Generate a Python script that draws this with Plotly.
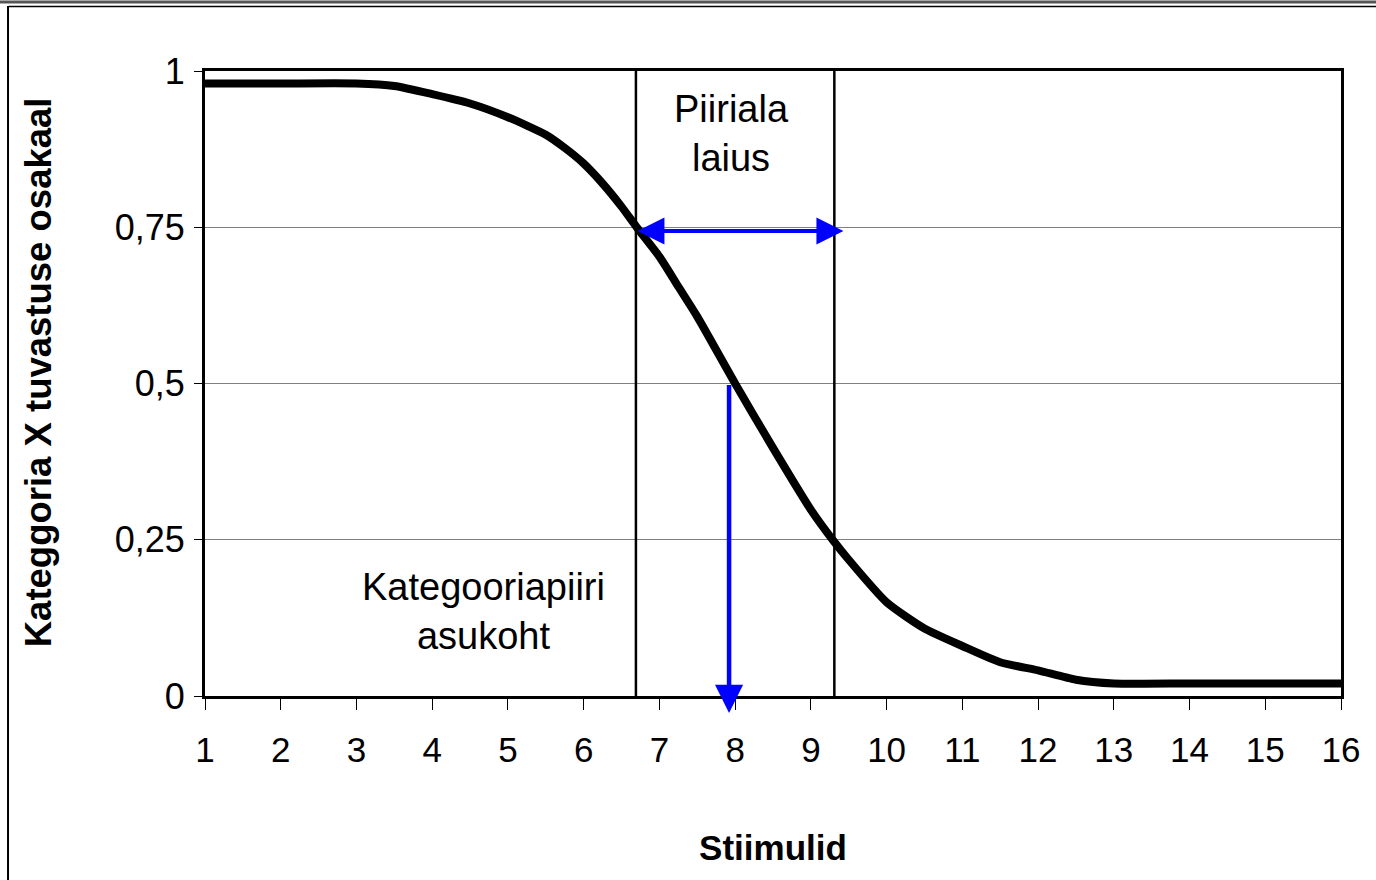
import plotly.graph_objects as go

# stimulus values and share of category X identifications
stimulus = [1, 2, 3, 3.5, 4, 4.5, 5, 5.5, 5.75, 6, 6.25, 6.5, 6.7, 7, 7.25, 7.5,
            8, 8.5, 9, 9.3, 9.5, 10, 10.5, 11, 11.5, 12, 12.5, 13, 14, 15, 16]
share = [0.98, 0.98, 0.98, 0.976, 0.963, 0.948, 0.926, 0.898, 0.877, 0.852, 0.82,
         0.783, 0.75, 0.703, 0.655, 0.607, 0.50, 0.397, 0.298, 0.248, 0.218, 0.15,
         0.108, 0.08, 0.054, 0.041, 0.026, 0.02, 0.02, 0.02, 0.02]

boundary_x = [6.69, 9.31]          # edges of the boundary region
width_arrow_x = [6.69, 9.43]       # "Piiriala laius" arrow
width_arrow_y = 0.744
location_x = 7.92                  # "Kategooriapiiri asukoht" arrow
location_y = [0.5, -0.027]

y_ticks = [0, 0.25, 0.5, 0.75, 1]
y_tick_text = ["0", "0,25", "0,5", "0,75", "1"]
x_ticks = list(range(1, 17))

FONT = "Liberation Sans, Arial, sans-serif"

fig = go.Figure()

fig.add_trace(
    go.Scatter(
        x=stimulus,
        y=share,
        mode="lines",
        line=dict(color="black", width=8, shape="spline", smoothing=0.6),
        cliponaxis=False,
        showlegend=False,
        hoverinfo="skip",
    )
)

# vertical boundary lines
for bx in boundary_x:
    fig.add_shape(
        type="line", xref="x", yref="y",
        x0=bx, x1=bx, y0=0, y1=1,
        line=dict(color="black", width=2.5),
    )

# double arrow for boundary width
fig.add_annotation(
    x=width_arrow_x[1], y=width_arrow_y,
    ax=width_arrow_x[0], ay=width_arrow_y,
    xref="x", yref="y", axref="x", ayref="y",
    text="", showarrow=True,
    arrowhead=2, arrowside="end+start", arrowsize=1.35,
    arrowwidth=4, arrowcolor="#0000ff",
)

# arrow down to the category boundary location
fig.add_annotation(
    x=location_x, y=location_y[1],
    ax=location_x, ay=location_y[0],
    xref="x", yref="y", axref="x", ayref="y",
    text="", showarrow=True,
    arrowhead=2, arrowsize=1.25,
    arrowwidth=4.5, arrowcolor="#0000ff",
)

fig.add_annotation(
    x=7.95, y=0.90, xref="x", yref="y",
    text="Piiriala<br>laius", showarrow=False,
    font=dict(family=FONT, size=38, color="black"),
)
fig.add_annotation(
    x=4.68, y=0.136, xref="x", yref="y",
    text="Kategooriapiiri<br>asukoht", showarrow=False,
    font=dict(family=FONT, size=38, color="black"),
)

# y axis title, placed as in the original (slightly above centre)
fig.add_annotation(
    x=-0.147, y=0.518, xref="paper", yref="paper",
    xanchor="center", yanchor="middle",
    text="<b>Kateggoria X tuvastuse osakaal</b>", showarrow=False,
    textangle=-90,
    font=dict(family=FONT, size=36.5, color="black"),
)

# outer frame (top and left edges)
fig.add_shape(type="line", xref="paper", yref="paper",
              x0=-0.19, x1=1.04, y0=1.1104, y1=1.1104,
              line=dict(color="#555555", width=3))
fig.add_shape(type="line", xref="paper", yref="paper",
              x0=-0.173, x1=1.04, y0=1.1032, y1=1.1032,
              line=dict(color="black", width=1.5))
fig.add_shape(type="line", xref="paper", yref="paper",
              x0=-0.1734, x1=-0.1734, y0=-0.3, y1=1.104,
              line=dict(color="black", width=2))

fig.update_xaxes(
    range=[1, 16],
    tickvals=x_ticks,
    ticks="outside", ticklen=11, tickwidth=1, tickcolor="black",
    ticklabelstandoff=10,
    showline=True, linecolor="black", linewidth=3, mirror=True,
    showgrid=False, zeroline=False,
    tickfont=dict(family=FONT, size=35, color="black"),
    title=dict(text="<b>Stiimulid</b>", standoff=68,
               font=dict(family=FONT, size=35, color="black")),
)
fig.update_yaxes(
    range=[0, 1],
    tickvals=y_ticks, ticktext=y_tick_text,
    ticks="outside", ticklen=8, tickwidth=1, tickcolor="black",
    ticklabelstandoff=2,
    showline=True, linecolor="black", linewidth=3, mirror=True,
    showgrid=True, gridcolor="#808080", gridwidth=1,
    zeroline=False,
    tickfont=dict(family=FONT, size=36, color="black"),
)

fig.update_layout(
    width=1376,
    height=880,
    paper_bgcolor="white",
    plot_bgcolor="white",
    margin=dict(l=205, r=35, t=71, b=184, autoexpand=False),
    showlegend=False,
)

fig.write_html(
    "out.html",
    config={"displayModeBar": False},
    post_script="document.body.style.margin='0';",
)
